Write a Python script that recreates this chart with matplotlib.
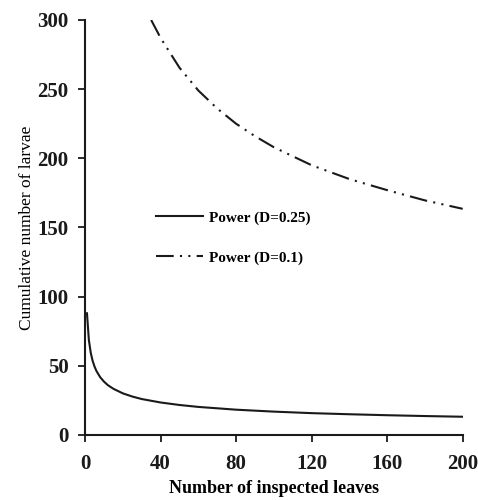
import numpy as np
import matplotlib
matplotlib.use("Agg")
from matplotlib import pyplot as plt

# values
x_d025 = [1, 2, 3, 4, 5, 6, 8, 10, 12, 15, 20, 25, 30, 40, 50, 60, 80, 100, 120, 140, 160, 180, 200]
y_d025 = [88, 68.7, 59.4, 53.6, 49.5, 46.3, 41.8, 38.6, 36.1, 33.4, 30.1, 27.8, 26.0, 23.5, 21.7, 20.3,
          18.3, 16.9, 15.8, 15.0, 14.3, 13.7, 13.2]
x_d01 = [35, 40, 50, 60, 70, 80, 90, 100, 120, 140, 160, 180, 200]
y_d01 = [300, 287, 265.5, 249, 236, 225, 216, 208, 195, 185, 177, 169.6, 163.5]
x_ticks = [0, 40, 80, 120, 160, 200]
y_ticks = [0, 50, 100, 150, 200, 250, 300]

plt.rcParams['font.family'] = ['Liberation Serif', 'DejaVu Serif']

fig = plt.figure(figsize=(4.78, 5.0), dpi=100)
ax = fig.add_axes([0.178, 0.13, 0.79, 0.83])

ax.plot(x_d025, y_d025, color='#1a1a1a', lw=1.5, label='Power (D=0.25)')
ax.plot(x_d01, y_d01, color='#1a1a1a', lw=1.5, ls=(0, (8.5, 3, 1, 3, 1, 3)),
        label='Power (D=0.1)')

ax.set_xlim(0, 200)
ax.set_ylim(0, 300)
ax.set_xticks(x_ticks)
ax.set_yticks(y_ticks)
for s in ['top', 'right']:
    ax.spines[s].set_visible(False)
for s in ['left', 'bottom']:
    ax.spines[s].set_linewidth(1.5)
    ax.spines[s].set_color('#1a1a1a')
ax.tick_params(direction='out', length=5, width=1.3, labelsize=15, pad=7, colors='#1a1a1a')
ax.tick_params(axis='x', pad=9)
for lb in ax.get_xticklabels() + ax.get_yticklabels():
    lb.set_fontweight('bold')

ax.set_xlabel('Number of inspected leaves', fontsize=13, fontweight='bold', labelpad=4)
ax.set_ylabel('Cumulative number of larvae', fontsize=12.5, labelpad=1.5)

leg = ax.legend(loc='center left', bbox_to_anchor=(0.152, 0.475), frameon=False,
                handlelength=3.08, labelspacing=1.7, handletextpad=0.4,
                prop={'size': 11, 'weight': 'bold'})

fig.savefig('out.png', dpi=100)
